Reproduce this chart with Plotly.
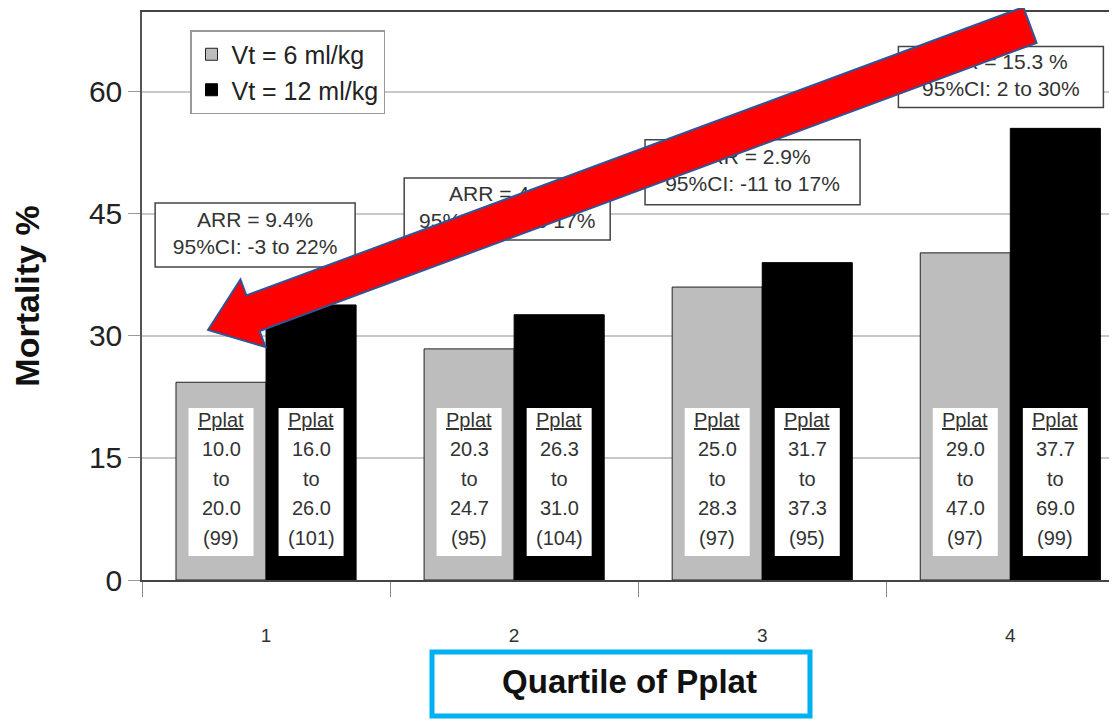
import plotly.graph_objects as go

# ---------------- data ----------------
quartiles = ["1", "2", "3", "4"]
vt6_mortality = [24.3, 28.4, 36.0, 40.2]
vt12_mortality = [33.8, 32.6, 39.0, 55.5]
series_names = ["Vt = 6 ml/kg", "Vt = 12 ml/kg"]

arr_text = ["ARR = 9.4%", "ARR = 4.2%", "ARR = 2.9%", "ARR = 15.3 %"]
ci_text = ["95%CI: -3 to 22%", "95%CI: -10 to 17%", "95%CI: -11 to 17%", "95%CI: 2 to 30%"]

pplat6_lo = ["10.0", "20.3", "25.0", "29.0"]
pplat6_hi = ["20.0", "24.7", "28.3", "47.0"]
n6 = [99, 95, 97, 97]
pplat12_lo = ["16.0", "26.3", "31.7", "37.7"]
pplat12_hi = ["26.0", "31.0", "37.3", "69.0"]
n12 = [101, 104, 95, 99]

y_ticks = [0, 15, 30, 45, 60]

# ---------------- layout geometry ----------------
OFF = 8                      # page body margin
W, H = 1109, 713
ML, MR, MT, MB = 134, 0, 4, 141
PW, PH = W - ML - MR, H - MT - MB
PLOT_L, PLOT_B = OFF + ML, OFF + H - MB   # page px of plot left / bottom
XR = [-0.5, 3.43]
YR = [0, 69.8]
BARGAP = 0.274
pxx = PW / (XR[1] - XR[0])   # px per x unit
pxy = PH / (YR[1] - YR[0])   # px per y unit

FONT = "Liberation Sans, Arial, sans-serif"
GRAY = "#bdbdbd"

def to_paper(px, py):
    return (px - PLOT_L) / PW, (PLOT_B - py) / PH

xs = list(range(len(quartiles)))

fig = go.Figure()
fig.add_trace(go.Bar(x=xs, y=vt6_mortality, name=series_names[0],
                     marker=dict(color=GRAY, line=dict(color="#222", width=1))))
fig.add_trace(go.Bar(x=xs, y=vt12_mortality, name=series_names[1],
                     marker=dict(color="#000000", line=dict(color="#000", width=1))))

shapes = []
annotations = []

# ---- ARR boxes (below arrow) ----
arr_pos = [(-0.044, 42.4), (0.972, 45.6), (1.961, 50.1), (2.962, 61.8)]
arr_size = [(200, 64), (206, 62), (215, 65), (205, 61)]
for (cx, cy), (wp, hp) in zip(arr_pos, arr_size):
    shapes.append(dict(type="rect", xref="x", yref="y", layer="between",
                       x0=cx - wp / 2 / pxx, x1=cx + wp / 2 / pxx,
                       y0=cy - hp / 2 / pxy, y1=cy + hp / 2 / pxy,
                       fillcolor="white", line=dict(color="#444", width=1.5)))
fig.add_trace(go.Scatter(x=[p[0] for p in arr_pos], y=[p[1] for p in arr_pos],
                         mode="text", showlegend=False, hoverinfo="skip",
                         text=[a + "<br>" + c for a, c in zip(arr_text, ci_text)],
                         textposition="middle center",
                         textfont=dict(family=FONT, size=21, color="#333")))

# ---- Pplat boxes inside bars ----
off = (1 - BARGAP) / 4
box_cy = 12.05
for i in xs:
    for sgn, lo, hi, n in ((-1, pplat6_lo[i], pplat6_hi[i], n6[i]),
                           (1, pplat12_lo[i], pplat12_hi[i], n12[i])):
        cx = i + sgn * off
        bw = 65
        shapes.append(dict(type="rect", xref="x", yref="y", layer="above",
                           x0=cx - bw / 2 / pxx, x1=cx + bw / 2 / pxx,
                           y0=box_cy - 74 / pxy, y1=box_cy + 74 / pxy,
                           fillcolor="white", line=dict(width=0)))
        lines = ["<u>Pplat</u>", lo, "to", hi, f"({n})"]
        for k, t in enumerate(lines):
            annotations.append(dict(x=cx, y=box_cy, xref="x", yref="y", text=t,
                                    showarrow=False, yshift=(2 - k) * 29.5 + 3,
                                    font=dict(family=FONT, size=20, color="#333")))

# ---- red arrow ----
tip = (208, 330)
end = (1030, 25)
dx, dy = end[0] - tip[0], end[1] - tip[1]
L = (dx ** 2 + dy ** 2) ** 0.5
ux, uy = dx / L, dy / L
nx, ny = -uy, ux
hl, hw, sw = 48, 36, 19
pts = [
    tip,
    (tip[0] + hl * ux - hw * nx, tip[1] + hl * uy - hw * ny),
    (tip[0] + hl * ux - sw * nx, tip[1] + hl * uy - sw * ny),
    (end[0] - sw * nx, end[1] - sw * ny),
    (end[0] + sw * nx, end[1] + sw * ny),
    (tip[0] + hl * ux + sw * nx, tip[1] + hl * uy + sw * ny),
    (tip[0] + hl * ux + hw * nx, tip[1] + hl * uy + hw * ny),
]
pp = [to_paper(*p) for p in pts]
path = "M " + " L ".join(f"{a:.5f},{b:.5f}" for a, b in pp) + " Z"
shapes.append(dict(type="path", xref="paper", yref="paper", layer="above", path=path,
                   fillcolor="#ff0000", line=dict(color="#2f5597", width=2)))

# ---- blue box around x title ----
bx0, by0 = to_paper(432, 652)
bx1, by1 = to_paper(810, 716)
shapes.append(dict(type="rect", xref="paper", yref="paper", x0=bx0, x1=bx1, y0=by0, y1=by1,
                   line=dict(color="#00b0f0", width=5), fillcolor="rgba(0,0,0,0)"))

lx, ly = to_paper(190, 30)

fig.update_layout(
    width=W, height=H,
    margin=dict(l=ML, r=MR, t=MT, b=MB),
    paper_bgcolor="white", plot_bgcolor="white",
    barmode="group", bargap=BARGAP, bargroupgap=0,
    font=dict(family=FONT, color="#222"),
    showlegend=True,
    legend=dict(x=lx, y=ly, xanchor="left", yanchor="top",
                bgcolor="white", bordercolor="#999", borderwidth=1.5,
                font=dict(size=25, color="#222"), tracegroupgap=0),
    shapes=shapes, annotations=annotations,
    xaxis=dict(range=XR, tickvals=xs, ticktext=quartiles, ticks="", showgrid=False,
               zeroline=False, showline=True, linecolor="#444", linewidth=1.5, mirror=True,
               tickfont=dict(size=19, color="#333"), ticklabelstandoff=37,
               minor=dict(tickvals=[-0.5, 0.5, 1.5, 2.5, 3.5], ticks="outside",
                          ticklen=15, tickcolor="#888", showgrid=False),
               title=dict(text="<b>Quartile of Pplat</b>", standoff=25,
                          font=dict(size=33, color="#111"))),
    yaxis=dict(range=YR, tickvals=y_ticks, ticks="outside", ticklen=12, tickcolor="#999",
               showgrid=True, gridcolor="#c8c8c8", gridwidth=1.5, zeroline=False,
               showline=True, linecolor="#555", linewidth=1.5,
               tickfont=dict(size=30, color="#222"),
               title=dict(text="<b>Mortality %</b>", standoff=46,
                          font=dict(size=34, color="#111"))),
)

fig.write_html("out.html")
